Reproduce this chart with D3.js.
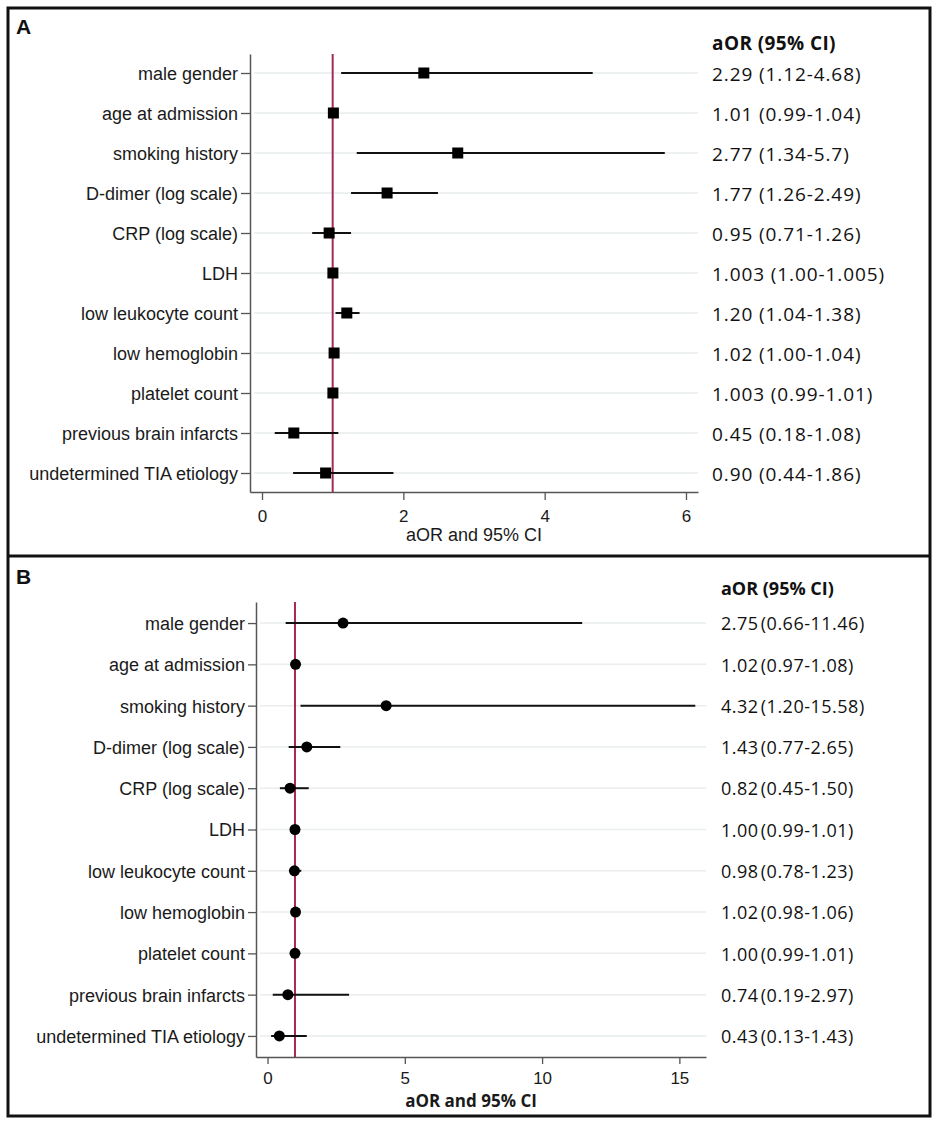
<!DOCTYPE html>
<html>
<head>
<meta charset="utf-8">
<script src="https://cdn.jsdelivr.net/npm/d3@7"></script>
<style>
  body { margin: 0; background: #fff; }
  svg { display: block; }
</style>
</head>
<body>
<div id="chart"></div>
<script>
// row labels, same order in both panels (top to bottom)
var labels = ["male gender","age at admission","smoking history","D-dimer (log scale)","CRP (log scale)",
  "LDH","low leukocyte count","low hemoglobin","platelet count","previous brain infarcts","undetermined TIA etiology"];

// panel A : aOR and 95% CI
var orA = [2.29,1.01,2.77,1.77,0.95,1.003,1.20,1.02,1.003,0.45,0.90];
var loA = [1.12,0.99,1.34,1.26,0.71,1.00,1.04,1.00,0.99,0.18,0.44];
var hiA = [4.68,1.04,5.7,2.49,1.26,1.005,1.38,1.04,1.01,1.08,1.86];
var textA = ["2.29 (1.12-4.68)","1.01 (0.99-1.04)","2.77 (1.34-5.7)","1.77 (1.26-2.49)","0.95 (0.71-1.26)",
  "1.003 (1.00-1.005)","1.20 (1.04-1.38)","1.02 (1.00-1.04)","1.003 (0.99-1.01)","0.45 (0.18-1.08)","0.90 (0.44-1.86)"];
var ticksA = [0,2,4,6];

// panel B
var orB = [2.75,1.02,4.32,1.43,0.82,1.00,0.98,1.02,1.00,0.74,0.43];
var loB = [0.66,0.97,1.20,0.77,0.45,0.99,0.78,0.98,0.99,0.19,0.13];
var hiB = [11.46,1.08,15.58,2.65,1.50,1.01,1.23,1.06,1.01,2.97,1.43];
var textB = ["2.75 (0.66-11.46)","1.02 (0.97-1.08)","4.32 (1.20-15.58)","1.43 (0.77-2.65)","0.82 (0.45-1.50)",
  "1.00 (0.99-1.01)","0.98 (0.78-1.23)","1.02 (0.98-1.06)","1.00 (0.99-1.01)","0.74 (0.19-2.97)","0.43 (0.13-1.43)"];
var ticksB = [0,5,10,15];

var width = 935, height = 1125;
var red = "#a52a55";
var axisCol = "#555";

var svg = d3.select("#chart").append("svg")
  .attr("width", width)
  .attr("height", height);

svg.append("rect").attr("width", width).attr("height", height).attr("fill", "#fff");

// outer frame + divider
svg.append("rect")
  .attr("x", 8).attr("y", 8)
  .attr("width", 922).attr("height", 1108)
  .attr("fill", "none")
  .attr("stroke", "#111")
  .attr("stroke-width", 3);
svg.append("line")
  .attr("x1", 8).attr("x2", 930)
  .attr("y1", 556).attr("y2", 556)
  .attr("stroke", "#111")
  .attr("stroke-width", 3);

drawPanel({
  letter: "A", letterY: 34,
  or: orA, lo: loA, hi: hiA, text: textA, ticks: ticksA,
  xDomain: [-0.17, 6.17], left: 250, right: 698,
  top: 54, bottom: 492, pad: 0.475,
  marker: "square",
  tickLen: 8,
  tickLabelY: 522, titleY: 541, titleFont: "Liberation Sans, Arial, sans-serif", titleWeight: 400, titleSize: 18, titleShift: 0,
  colX: 712, headY: 50, colSize: 19, colSpacing: 0.9, colWordSpacing: 0
});

drawPanel({
  letter: "B", letterY: 584,
  or: orB, lo: loB, hi: hiB, text: textB, ticks: ticksB,
  xDomain: [-0.42, 15.97], left: 256, right: 706,
  top: 602, bottom: 1057, pad: 0.51,
  marker: "circle",
  tickLen: 7,
  tickLabelY: 1084, titleY: 1107, titleFont: "Open Sans, sans-serif", titleWeight: 700, titleSize: 17, titleShift: -10,
  colX: 721, headY: 595, colSize: 18, colSpacing: 0.5, colWordSpacing: -3
});

function drawPanel(p) {
  var g = svg.append("g");

  var xScale = d3.scaleLinear().domain(p.xDomain).range([p.left, p.right]);
  var yScale = d3.scalePoint().domain(labels).range([p.top, p.bottom]).padding(p.pad);

  // panel letter
  svg.append("text")
    .text(p.letter)
    .attr("x", 16)
    .attr("y", p.letterY)
    .style("font-family", "Liberation Sans, Arial, sans-serif")
    .style("font-size", "21px")
    .style("font-weight", 700)
    .style("fill", "#111");

  // light gridlines
  g.selectAll(".grid")
    .data(labels)
    .enter().append("line")
    .attr("x1", p.left + 4)
    .attr("x2", p.right)
    .attr("y1", function(d) { return yScale(d); })
    .attr("y2", function(d) { return yScale(d); })
    .attr("stroke", "#e9eded")
    .attr("stroke-width", 1.5);

  // reference line at 1
  g.append("line")
    .attr("x1", xScale(1)).attr("x2", xScale(1))
    .attr("y1", p.top).attr("y2", p.bottom)
    .attr("stroke", red)
    .attr("stroke-width", 2);

  // CI lines
  g.selectAll(".ci")
    .data(labels)
    .enter().append("line")
    .attr("x1", function(d, i) { return xScale(p.lo[i]); })
    .attr("x2", function(d, i) { return xScale(p.hi[i]); })
    .attr("y1", function(d) { return yScale(d); })
    .attr("y2", function(d) { return yScale(d); })
    .attr("stroke", "#111")
    .attr("stroke-width", 2);

  // point estimates
  if (p.marker == "square") {
    var s = 11;
    g.selectAll(".pt")
      .data(labels)
      .enter().append("rect")
      .attr("x", function(d, i) { return xScale(p.or[i]) - s/2; })
      .attr("y", function(d) { return yScale(d) - s/2; })
      .attr("width", s)
      .attr("height", s)
      .attr("fill", "#000");
  } else {
    g.selectAll(".pt")
      .data(labels)
      .enter().append("circle")
      .attr("cx", function(d, i) { return xScale(p.or[i]); })
      .attr("cy", function(d) { return yScale(d); })
      .attr("r", 5.5)
      .attr("fill", "#000");
  }

  // axes
  var yAxis = d3.axisLeft(yScale).tickSize(p.tickLen + 1).tickSizeOuter(0).tickPadding(3);
  var ya = g.append("g")
    .attr("transform", "translate(" + p.left + ",0)")
    .call(yAxis);

  var xAxis = d3.axisBottom(xScale).tickValues(p.ticks).tickFormat(d3.format("d"))
    .tickSize(p.tickLen).tickSizeOuter(0).tickPadding(4);
  var xa = g.append("g")
    .attr("transform", "translate(0," + p.bottom + ")")
    .call(xAxis);

  [ya, xa].forEach(function(a) {
    a.select(".domain").attr("stroke", axisCol).attr("stroke-width", 1.5);
    a.selectAll(".tick line").attr("stroke", axisCol).attr("stroke-width", 1.3);
    a.selectAll(".tick text")
      .style("font-family", "Liberation Sans, Arial, sans-serif")
      .style("fill", "#1a1a1a");
  });
  ya.selectAll(".tick text").style("font-size", "18px").attr("dy", "0.36em");
  xa.selectAll(".tick text").style("font-size", "17px")
    .attr("dy", null)
    .attr("y", p.tickLabelY - p.bottom);

  // x title
  svg.append("text")
    .text("aOR and 95% CI")
    .attr("x", (p.left + p.right) / 2 + p.titleShift)
    .attr("y", p.titleY)
    .style("font-family", p.titleFont)
    .style("font-size", p.titleSize + "px")
    .style("font-weight", p.titleWeight)
    .style("fill", "#1a1a1a")
    .style("text-anchor", "middle");

  // right text column
  svg.append("text")
    .text("aOR (95% CI)")
    .attr("x", p.colX)
    .attr("y", p.headY)
    .style("font-family", "Open Sans, sans-serif")
    .style("font-size", p.colSize + "px")
    .style("font-weight", 700)
    .style("letter-spacing", (p.colSpacing - 0.5) + "px")
    .style("fill", "#111");

  svg.selectAll(".col" + p.letter)
    .data(labels)
    .enter().append("text")
    .text(function(d, i) { return p.text[i]; })
    .attr("x", p.colX)
    .attr("y", function(d) { return yScale(d); })
    .attr("dy", "0.4em")
    .style("font-family", "Open Sans, sans-serif")
    .style("font-size", p.colSize + "px")
    .style("letter-spacing", p.colSpacing + "px")
    .style("word-spacing", p.colWordSpacing + "px")
    .style("fill", "#111");
}
</script>
</body>
</html>
